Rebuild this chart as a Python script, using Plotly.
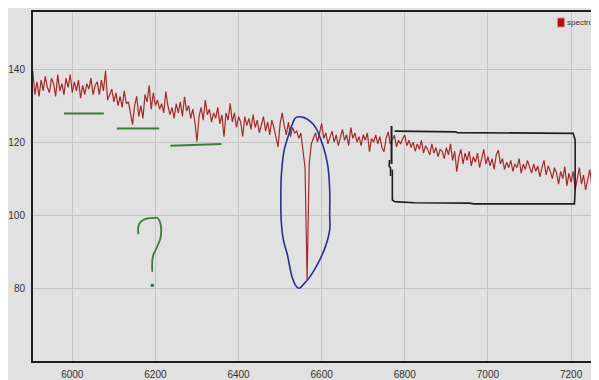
import plotly.graph_objects as go

# ---------------- data ----------------
WAVE_START = 5905      # Angstrom, first sample
WAVE_STEP = 5          # Angstrom between samples
flux = [
    139.5, 133, 136.5, 132.5, 137, 134, 138, 135, 133.5, 137.5,
    136, 132.5, 138.5, 134, 136, 133, 137.5, 135, 138.5, 133.5,
    136.5, 134, 137, 132, 135.5, 133, 136, 134.5, 137.5, 133,
    135.5, 136.5, 133, 137, 134, 139.5, 131.5, 133, 134.5, 131,
    133.5, 130, 132.5, 129.5, 134, 130.5, 131, 128, 124.8, 130,
    132.5, 127, 130, 126.5, 133, 131, 135.5, 129, 133.5, 130,
    131.5, 129, 130.5, 128, 133.8, 130, 127.5, 129.5, 126.5, 130.5,
    128, 131, 127, 132.4, 128.5, 130, 126.5, 129, 125.5, 120.1,
    127, 129.5, 126, 131.5, 127.5, 129, 125.5, 128, 126.5, 129.5,
    125, 127.5, 121.5, 128, 126, 130.6, 125.5, 128, 124, 127,
    125.5, 121.5, 127, 124.5, 126.5, 123.5, 127.5, 124, 126, 122.5,
    125, 127, 123, 125.5, 122, 126, 124, 121.5, 118.7, 125,
    128, 124.5, 122, 125.5, 121.5, 124, 122.5, 123, 121, 122.5,
    117.2, 113, 82.3, 114, 119.5, 121, 122.5, 120, 123, 125.1,
    121, 122.5, 119.5, 121.5, 123, 120, 122, 119, 121.5, 123.5,
    120.5, 122, 119, 124, 121, 122.5, 120, 121.5, 119, 122,
    120.5, 122.5, 117.4, 121, 120, 122, 119.5, 121.5, 118.5, 117.4,
    121, 122.8, 119.5, 120.5, 121.9, 118.7, 120.5, 119.5, 121, 121.9,
    119, 120.5, 118.5, 120, 117.5, 119.5, 118, 120.5, 117, 119,
    118, 116.5, 119.5, 117, 118.5, 116, 118, 117.5, 115.5, 118.5,
    116.5, 119.5, 115, 117.5, 111.9, 116, 118, 114, 117, 115,
    117.5, 113.5, 116, 114.5, 117, 113, 115.5, 118, 114, 116,
    113.5, 115.5, 112.5, 116.5, 117.8, 114, 115.5, 112.5, 114.5, 113,
    115, 112, 114, 113, 115.5, 111.5, 114, 112.5, 115, 113,
    111.5, 114, 112, 113.5, 110.5, 113, 115, 111, 113.5, 112,
    110, 113, 111.5, 108.5, 112, 110, 113.3, 108, 111.5, 109,
    112, 107, 110.5, 113, 108.5, 111, 106.9, 110, 112.5, 108,
    110.5, 107.5, 102.3, 108,
]
wavelength = [WAVE_START + WAVE_STEP * i for i in range(len(flux))]

x_ticks = [6000, 6200, 6400, 6600, 6800, 7000, 7200]
y_ticks = [80, 100, 120, 140]
series_name = "spectrum"

# hand-drawn annotation strokes (data units: wavelength, flux)
green_bars = [
    ([5980, 6076], [127.8, 127.8]),
    ([6107, 6209], [123.7, 123.7]),
    ([6236, 6290, 6359], [119.0, 119.2, 119.5]),
]
question_x = [6159, 6159, 6164.5, 6176.4, 6192.4, 6204.3, 6209.8, 6213.8,
              6212.1, 6204.3, 6194.8, 6192.4, 6192.4]
question_y = [94.8, 96.9, 98.2, 99.0, 99.2, 99.3, 98.5, 96.4,
              93.7, 91.4, 89.1, 87.3, 84.5]
question_dot_x = [6192.4, 6192.4]
question_dot_y = [80.4, 81.2]

loop_x = [6537.6, 6557.4, 6573.3, 6586, 6595.5, 6605, 6614.5, 6619.3, 6619.3,
          6619.3, 6609, 6593, 6573.3, 6557.4, 6545.5, 6538.3, 6528.8, 6517.6,
          6508, 6502.6, 6501.9, 6503.3, 6509.8, 6521.7, 6530, 6537.6]
loop_y = [126.7, 126.7, 125.6, 123.9, 121.4, 118.4, 113.7, 106.9, 100.1,
          96.0, 91.4, 87.2, 83.4, 81.2, 80.0, 80.6, 83.1, 89.1,
          93.2, 98.7, 106.9, 111.5, 117.8, 122.4, 125.1, 126.7]

box_x = [6770, 6770, 6775.7, 6823.3, 6954.3, 6966.2, 7208.1, 7209.8, 7209.8,
         7205, 6926.4, 6922.4, 6775.7]
box_y = [112.4, 104.2, 103.7, 103.4, 103.3, 103.1, 103.1, 106.9, 120.6,
         122.4, 122.6, 122.8, 123.0]
box_tick_x = [6768.1, 6768.1]
box_tick_y = [124.4, 114.0]
box_hook_x = [6763.3, 6762.1, 6765.7, 6765.7]
box_hook_y = [115.1, 113.5, 112.9, 110.7]

# ---------------- styling / layout ----------------
# The page body adds an 8px white margin; the figure overflows to the right/bottom.
W, H = 599, 380
ML, MT, MB, MR = 19, 4, 27, 0
PW, PH = W - ML - MR, H - MT - MB
BG = "#e1e1e1"
FONT = "Liberation Sans Narrow, Arial Narrow, Liberation Sans, Arial, sans-serif"


def px_x(px):
    return (px - ML) / PW


def px_y(py):
    return (H - MB - py) / PH


fig = go.Figure()

fig.add_trace(go.Scatter(
    x=wavelength, y=flux, mode="lines", name=series_name,
    line=dict(color="#a52a2a", width=1.2), showlegend=False,
    hoverinfo="skip",
))

stroke = dict(mode="lines", showlegend=False, hoverinfo="skip")
for gx, gy in green_bars:
    fig.add_trace(go.Scatter(x=gx, y=gy, line=dict(color="#3c7d3c", width=2), **stroke))
fig.add_trace(go.Scatter(x=question_x, y=question_y,
                         line=dict(color="#3c7d3c", width=1.8, shape="spline"), **stroke))
fig.add_trace(go.Scatter(x=question_dot_x, y=question_dot_y,
                         line=dict(color="#2f6a2f", width=3), **stroke))
fig.add_trace(go.Scatter(x=loop_x, y=loop_y,
                         line=dict(color="#2b2f8c", width=1.6, shape="spline"), **stroke))
fig.add_trace(go.Scatter(x=box_x, y=box_y, line=dict(color="#1e1e1e", width=1.6), **stroke))
fig.add_trace(go.Scatter(x=box_tick_x, y=box_tick_y, line=dict(color="#1e1e1e", width=2), **stroke))
fig.add_trace(go.Scatter(x=box_hook_x, y=box_hook_y, line=dict(color="#1e1e1e", width=1.6), **stroke))

shapes = [
    # legend swatch
    dict(type="rect", xref="paper", yref="paper", layer="above",
         x0=px_x(549), x1=px_x(556), y0=px_y(19), y1=px_y(10),
         fillcolor="#b40c0c", line=dict(color="#de8a8a", width=1)),
]

fig.update_layout(
    width=W, height=H,
    margin=dict(l=ML, r=MR, t=MT, b=MB, pad=0),
    paper_bgcolor=BG, plot_bgcolor=BG,
    font=dict(family=FONT, size=10, color="#333333"),
    showlegend=False,
    shapes=shapes,
    annotations=[dict(
        x=px_x(557), y=px_y(14.5), xref="paper", yref="paper",
        xanchor="left", yanchor="middle", showarrow=False,
        text=series_name, font=dict(family=FONT, size=8, color="#333333"),
    )],
    xaxis=dict(
        range=[5905.5, 5905.5 + PW / 0.42],
        tickvals=x_ticks, ticktext=[str(v) for v in x_ticks],
        showgrid=True, gridcolor="#c4c4c4", gridwidth=1,
        zeroline=False, showline=True, linecolor="#1e1e1e", linewidth=2,
        mirror=True, ticks="", ticklabelstandoff=3,
    ),
    yaxis=dict(
        range=[60.1, 155.6],
        tickvals=y_ticks, ticktext=[str(v) for v in y_ticks],
        showgrid=True, gridcolor="#c4c4c4", gridwidth=1,
        zeroline=False, showline=True, linecolor="#1e1e1e", linewidth=2,
        ticks="", ticklabelstandoff=4,
    ),
)

fig.write_html("out.html")
